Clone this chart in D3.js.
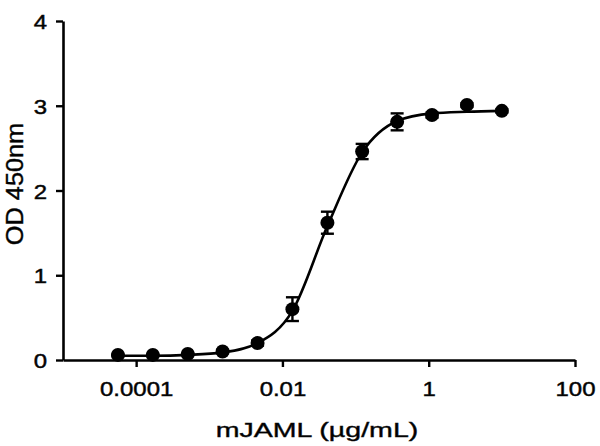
<!DOCTYPE html>
<html>
<head>
<meta charset="utf-8">
<script src="https://cdn.jsdelivr.net/npm/d3@7"></script>
<style>
  html, body { margin: 0; padding: 0; background: #fff; }
  svg { display: block; }
  text { font-family: "Liberation Sans", Arial, Helvetica, sans-serif; fill: #000; }
</style>
</head>
<body>
<svg id="chart" width="600" height="446"></svg>
<script>
// ---- data ----
const concentrations = [0.0000564, 0.000169, 0.000508, 0.00152, 0.00457, 0.0137, 0.0412, 0.123, 0.370, 1.11, 3.33, 10];
const odMeans        = [0.06, 0.06, 0.07, 0.10, 0.20, 0.60, 1.62, 2.46, 2.81, 2.89, 3.01, 2.94];
const odErrors       = [0.01, 0.01, 0.01, 0.02, 0.03, 0.14, 0.13, 0.09, 0.10, 0.03, 0.02, 0.02];
const fitCurveValues = [0.05, 0.05, 0.06, 0.09, 0.20, 0.58, 1.58, 2.45, 2.82, 2.91, 2.93, 2.94];
const xTickValues = [0.0001, 0.01, 1, 100];
const xTickLabels = ["0.0001", "0.01", "1", "100"];
const yTickValues = [0, 1, 2, 3, 4];
const xTitle = "mJAML (\u00B5g/mL)";
const yTitle = "OD 450nm";

const svg = d3.select("#chart");

const x = d3.scaleLog().domain([0.00001, 100]).range([63, 575]);
const y = d3.scaleLinear().domain([0, 4]).range([360, 21]);

// widen glyphs horizontally like the reference font
function stretch(sel, factor) {
  sel.each(function() {
    const n = this.getComputedTextLength();
    d3.select(this).attr("textLength", n * factor).attr("lengthAdjust", "spacingAndGlyphs");
  });
}

// ---- axes ----
const xAxis = d3.axisBottom(x)
  .tickValues(xTickValues)
  .tickFormat((d, i) => xTickLabels[i])
  .tickSizeInner(7).tickSizeOuter(0).tickPadding(14);
const gx = svg.append("g").attr("transform", `translate(0,${y(0)})`).call(xAxis);

const yAxis = d3.axisLeft(y)
  .tickValues(yTickValues)
  .tickFormat(d3.format("d"))
  .tickSizeInner(7).tickSizeOuter(0).tickPadding(9);
const gy = svg.append("g").attr("transform", `translate(${x(0.00001)},0)`).call(yAxis);

[gx, gy].forEach(g => {
  g.select(".domain").attr("stroke", "#000").attr("stroke-width", 2.6);
  g.selectAll(".tick line").attr("stroke", "#000").attr("stroke-width", 2.4);
  g.selectAll(".tick text").attr("font-size", 21).attr("fill", "#111")
    .attr("stroke", "#111").attr("stroke-width", 0.5)
    .attr("font-family", "Liberation Sans, Arial, sans-serif");
});
gx.selectAll(".tick text").attr("dy", "0.71em");
gy.selectAll(".tick text").attr("dy", "0.36em");
stretch(gx.selectAll(".tick text"), 1.14);
stretch(gy.selectAll(".tick text"), 1.14);

// ---- axis titles ----
const xt = svg.append("text")
  .attr("x", 317).attr("y", 437)
  .attr("text-anchor", "middle")
  .attr("font-size", 21)
  .attr("fill", "#111").attr("stroke", "#111").attr("stroke-width", 0.4)
  .text(xTitle);
stretch(xt, 1.36);

const yt = svg.append("text")
  .attr("transform", "translate(23,184) rotate(-90)")
  .attr("text-anchor", "middle")
  .attr("font-size", 23)
  .attr("fill", "#111").attr("stroke", "#111").attr("stroke-width", 0.4)
  .text(yTitle);
stretch(yt, 1.1);

// ---- fitted curve ----
const pts = concentrations.map((c, i) => ({c, m: odMeans[i], e: odErrors[i], f: fitCurveValues[i]}));

const line = d3.line()
  .x(d => x(d.c))
  .y(d => y(d.f))
  .curve(d3.curveMonotoneX);

svg.append("path")
  .datum(pts)
  .attr("d", line)
  .attr("fill", "none")
  .attr("stroke", "#000")
  .attr("stroke-width", 2.6);

// ---- error bars ----
const eb = svg.append("g").attr("stroke", "#000").attr("stroke-width", 2.4);
const cap = 6.5;
pts.forEach(d => {
  const cx = x(d.c), y1 = y(d.m + d.e), y2 = y(d.m - d.e);
  eb.append("line").attr("x1", cx).attr("x2", cx).attr("y1", y1).attr("y2", y2);
  eb.append("line").attr("x1", cx - cap).attr("x2", cx + cap).attr("y1", y1).attr("y2", y1);
  eb.append("line").attr("x1", cx - cap).attr("x2", cx + cap).attr("y1", y2).attr("y2", y2);
});

// ---- points ----
svg.append("g").selectAll("circle")
  .data(pts)
  .join("circle")
  .attr("cx", d => x(d.c))
  .attr("cy", d => y(d.m))
  .attr("r", 7)
  .attr("fill", "#000");
</script>
</body>
</html>
